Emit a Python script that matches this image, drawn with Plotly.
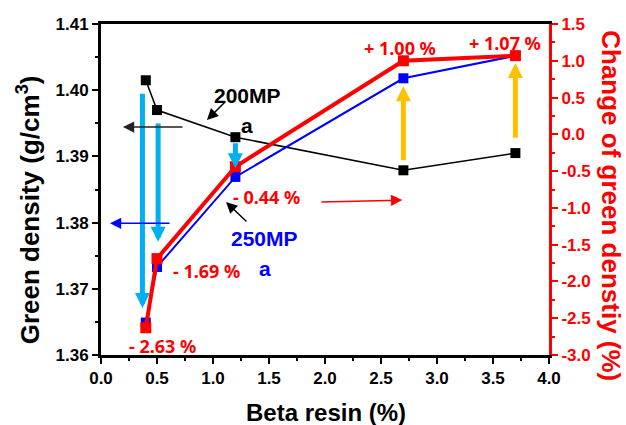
import plotly.graph_objects as go

# ---------------- data ----------------
resin = [0.4, 0.5, 1.2, 2.7, 3.7]
density_200mp = [1.4015, 1.3970, 1.3929, 1.3879, 1.3905]
density_250mp = [1.3649, 1.3733, 1.3869, 1.4018, 1.4052]
change_pct = [-2.63, -1.69, -0.44, 1.00, 1.07]

x_ticks = [0.0, 0.5, 1.0, 1.5, 2.0, 2.5, 3.0, 3.5, 4.0]
y_ticks = [1.36, 1.37, 1.38, 1.39, 1.40, 1.41]
y2_ticks = [-3.0, -2.5, -2.0, -1.5, -1.0, -0.5, 0.0, 0.5, 1.0, 1.5]

FONT = "Liberation Sans"
RED = "#ff0000"
BLUE = "#0000ff"
CYAN = "#00b0f0"
ORANGE = "#ffc000"

fig = go.Figure()

fig.add_trace(go.Scatter(
    x=resin, y=density_200mp, mode="lines+markers", name="200MP",
    line=dict(color="black", width=1.5),
    marker=dict(symbol="square", size=10, color="black"),
    yaxis="y"))
fig.add_trace(go.Scatter(
    x=resin, y=density_250mp, mode="lines+markers", name="250MP",
    line=dict(color=BLUE, width=2),
    marker=dict(symbol="square", size=10, color=BLUE),
    yaxis="y"))
fig.add_trace(go.Scatter(
    x=resin, y=change_pct, mode="lines+markers", name="change",
    line=dict(color=RED, width=4),
    marker=dict(symbol="square", size=11, color=RED),
    yaxis="y2"))

ann = []

# vertical block arrows (tail -> head) in data units of left axis
block_arrows = [
    (0.37, 1.3997, 1.3671, CYAN),
    (0.51, 1.3952, 1.3771, CYAN),
    (1.20, 1.3922, 1.3882, CYAN),
    (2.70, 1.3892, 1.4006, ORANGE),
    (3.70, 1.3926, 1.4041, ORANGE),
]
for xv, ytail, yhead, col in block_arrows:
    ann.append(dict(x=xv, y=yhead, ax=xv, ay=ytail, xref="x", yref="y",
                    axref="x", ayref="y", text="", showarrow=True,
                    arrowhead=2, arrowwidth=5, arrowsize=0.6,
                    arrowcolor=col, standoff=0, startstandoff=0))

# thin pointer arrows: (x_head, y_head, x_tail, y_tail, color)
thin_arrows = [
    (0.196, 1.39444, 0.741, 1.39444, "#222222"),
    (0.08, 1.3799, 0.625, 1.3799, BLUE),
    (2.69, 1.3834, 1.955, 1.3831, RED),
    (0.946, 1.3955, 1.125, 1.39852, "black"),
    (1.116, 1.38311, 1.3125, 1.37994, "black"),
]
for xh, yh, xt, yt, col in thin_arrows:
    ann.append(dict(x=xh, y=yh, ax=xt, ay=yt, xref="x", yref="y",
                    axref="x", ayref="y", text="", showarrow=True,
                    arrowhead=2, arrowwidth=1.5, arrowsize=1.5,
                    arrowcolor=col, standoff=0, startstandoff=0))

# series labels
labels = [
    ("200MP", 1.304, 1.39927, "black", 21),
    ("a", 1.304, 1.39474, "black", 21),
    ("250MP", 1.464, 1.37767, BLUE, 21),
    ("a", 1.464, 1.37314, BLUE, 21),
]
for t, xv, yv, col, sz in labels:
    ann.append(dict(x=xv, y=yv, xref="x", yref="y", text="<b>%s</b>" % t,
                    showarrow=False, xanchor="center", yanchor="middle",
                    font=dict(family=FONT, size=sz, color=col)))

# percentage labels anchored to red points (pixel offsets)
offsets = [(17, -18), (49, -12), (31, -30), (-3, 13), (-10, 13)]
for xv, cv, (dx, dy) in zip(resin, change_pct, offsets):
    sign = "+" if cv >= 0 else "-"
    ann.append(dict(x=xv, y=cv, xref="x", yref="y2",
                    text="<b>%s %.2f %%</b>" % (sign, abs(cv)),
                    showarrow=False, xshift=dx, yshift=dy,
                    xanchor="center", yanchor="middle",
                    font=dict(family="Noto Sans", size=18, color=RED)))

# axis titles as annotations
ann.append(dict(x=-0.163, y=0.44, xref="paper", yref="paper",
                xanchor="center", yanchor="middle",
                text="<b>Green density (g/cm<sup>3</sup>)</b>", textangle=-90,
                showarrow=False, font=dict(family=FONT, size=26, color="black")))
ann.append(dict(x=1.138, y=0.45, xref="paper", yref="paper",
                xanchor="center", yanchor="middle",
                text="<b>Change of green denstiy (%)</b>", textangle=90,
                showarrow=False, font=dict(family=FONT, size=26, color=RED)))
ann.append(dict(x=0.502, y=-0.175, xref="paper", yref="paper",
                xanchor="center", yanchor="middle",
                text="<b>Beta resin (%)</b>",
                showarrow=False, font=dict(family=FONT, size=24, color="black")))

tickfont = dict(family=FONT, size=17, color="black", weight="bold")

fig.update_layout(
    width=626, height=425,
    margin=dict(l=101, r=77, t=24, b=70),
    paper_bgcolor="white", plot_bgcolor="white",
    showlegend=False,
    annotations=ann,
    xaxis=dict(range=[0, 4], tickvals=x_ticks, ticktext=["%.1f" % v for v in x_ticks],
               ticks="outside", ticklen=6, tickwidth=2, tickcolor="black",
               showline=True, linewidth=3, linecolor="black", mirror=True,
               showgrid=False, zeroline=False, tickfont=tickfont,
               minor=dict(dtick=0.25, tick0=0, ticks="outside", ticklen=3,
                          tickwidth=2, tickcolor="black")),
    yaxis=dict(range=[1.36, 1.41], tickvals=y_ticks, ticktext=["%.2f" % v for v in y_ticks],
               ticks="outside", ticklen=6, tickwidth=2, tickcolor="black",
               showline=True, linewidth=3, linecolor="black",
               showgrid=False, zeroline=False, tickfont=tickfont,
               minor=dict(dtick=0.005, tick0=1.36, ticks="outside", ticklen=3,
                          tickwidth=2, tickcolor="black")),
    yaxis2=dict(range=[-3, 1.5], overlaying="y", side="right",
                tickvals=y2_ticks, ticktext=["%.1f" % v for v in y2_ticks],
                ticks="outside", ticklen=6, tickwidth=2, tickcolor=RED,
                showline=True, linewidth=3, linecolor=RED,
                showgrid=False, zeroline=False,
                tickfont=dict(family=FONT, size=17, color=RED, weight="bold"),
                minor=dict(dtick=0.25, tick0=-3, ticks="outside", ticklen=3,
                           tickwidth=2, tickcolor=RED)),
)

fig.write_html("out.html")
